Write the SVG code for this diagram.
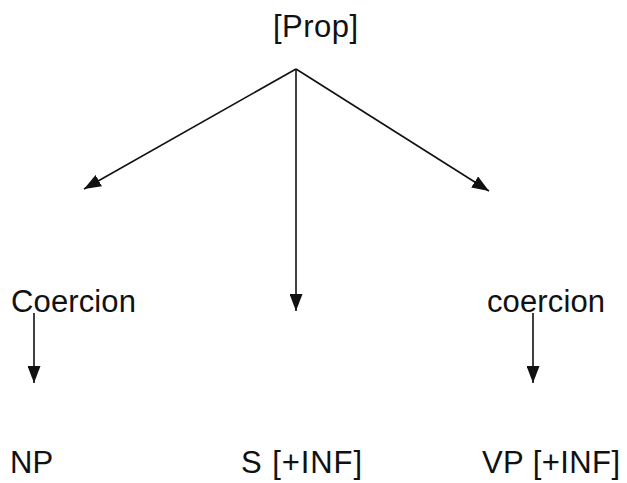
<svg xmlns="http://www.w3.org/2000/svg" width="627" height="483" viewBox="0 0 627 483">
  <style>
    .lbl { font-family: "Liberation Sans", Arial, sans-serif; font-size: 31px; fill: #111; }
    .edge { stroke: #111; stroke-width: 1.6; fill: none; marker-end: url(#head); }
  </style>
  <defs>
    <marker id="head" viewBox="0 0 17 13" refX="17" refY="6.5" markerWidth="17" markerHeight="13" markerUnits="userSpaceOnUse" orient="auto">
      <path d="M0,0 L17,6.5 L0,13 Z" fill="#111"/>
    </marker>
  </defs>
  <rect width="627" height="483" fill="#fff"/>

  <g id="connectors">
    <line class="edge" x1="296" y1="69" x2="84" y2="189"/>
    <line class="edge" x1="296" y1="69" x2="296" y2="311"/>
    <line class="edge" x1="296" y1="69" x2="489" y2="191"/>
    <line class="edge" x1="34" y1="313" x2="34" y2="383"/>
    <line class="edge" x1="533" y1="313" x2="533" y2="383"/>
  </g>

  <g id="prop"><text class="lbl" x="273" y="37" textLength="85">[Prop]</text></g>
  <g id="coercion-left"><text class="lbl" x="11" y="312" textLength="125">Coercion</text></g>
  <g id="coercion-right"><text class="lbl" x="487" y="312" textLength="118">coercion</text></g>
  <g id="np"><text class="lbl" x="10" y="473">NP</text></g>
  <g id="s-inf"><text class="lbl" x="241" y="473" textLength="121">S [+INF]</text></g>
  <g id="vp-inf"><text class="lbl" x="482" y="473" textLength="138">VP [+INF]</text></g>
</svg>
